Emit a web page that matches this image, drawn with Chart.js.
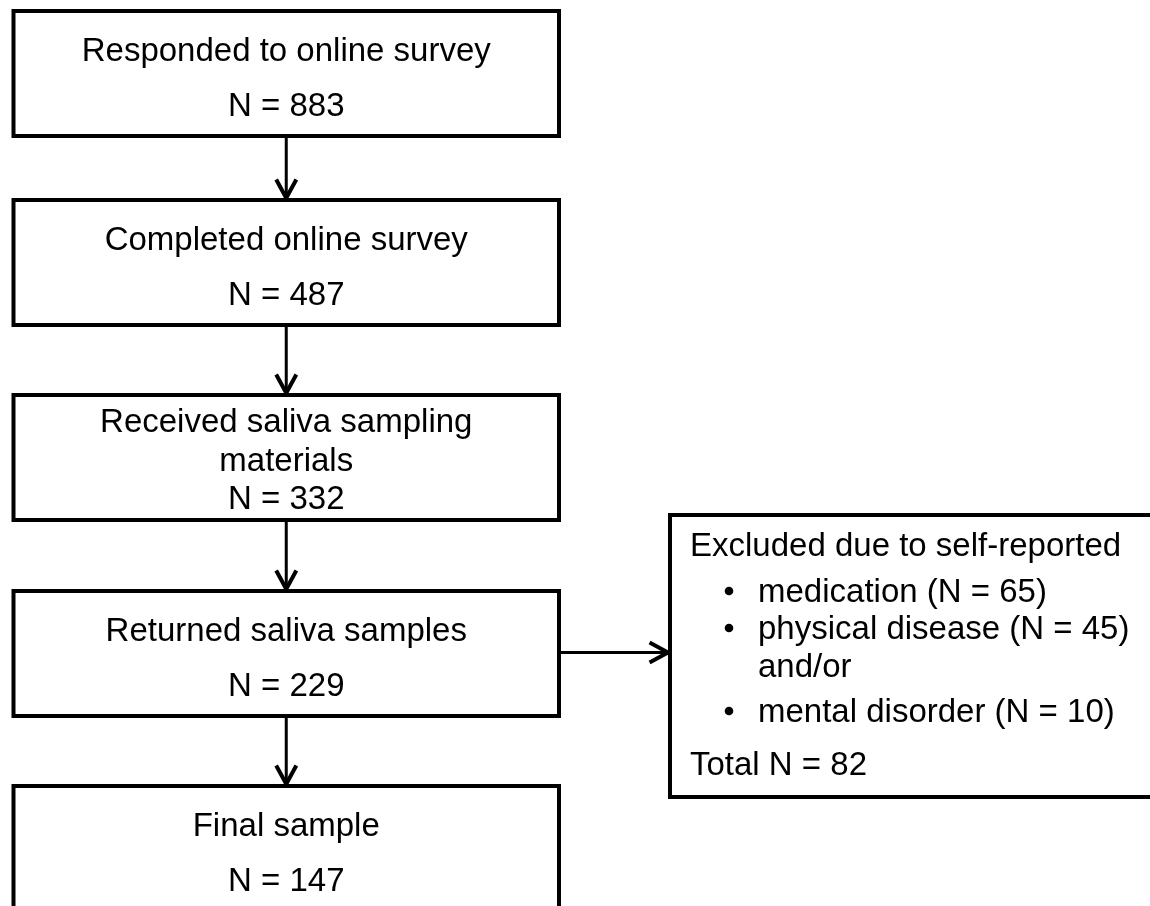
<!DOCTYPE html>
<html>
<head>
<meta charset="utf-8">
<title>Participant flow</title>
<script src="https://cdn.jsdelivr.net/npm/chart.js@4"></script>
<style>
  body { margin: 0; background: #fff; }
  canvas { display: block; }
</style>
</head>
<body>
<canvas id="flow" width="1150" height="906"></canvas>
<script>
// Flow data
const steps = ["Responded to online survey", "Completed online survey", "Received saliva sampling materials", "Returned saliva samples", "Final sample"];
const stepN = [883, 487, 332, 229, 147];
const excludedTitle = "Excluded due to self-reported";
const exclusionReasons = ["medication", "physical disease", "mental disorder"];
const exclusionN = [65, 45, 10];
const excludedTotal = 82;

// Layout (in axis units, 1 unit = 1 px)
const boxLeft = 13.5, boxRight = 559, boxHeight = 125;
const boxTops = [11, 200, 395, 591, 786];
const sideBox = { left: 670, right: 1155, top: 515, bottom: 797 };
const FONT = '33px "Liberation Sans", Arial, sans-serif';

function wrap(ctx, text, maxW) {
    const words = text.split(" ");
    const lines = [];
    let cur = "";
    words.forEach(w => {
        const t = cur ? cur + " " + w : w;
        if (ctx.measureText(t).width > maxW && cur) { lines.push(cur); cur = w; }
        else cur = t;
    });
    lines.push(cur);
    return lines;
}

function arrow(ctx, x1, y1, x2, y2) {
    ctx.lineWidth = 3;
    ctx.beginPath();
    ctx.moveTo(x1, y1);
    ctx.lineTo(x2, y2);
    ctx.stroke();
    const a = Math.atan2(y2 - y1, x2 - x1);
    const len = 21, half = 0.5;
    ctx.lineWidth = 4;
    ctx.beginPath();
    ctx.moveTo(x2 - len * Math.cos(a - half), y2 - len * Math.sin(a - half));
    ctx.lineTo(x2, y2);
    ctx.lineTo(x2 - len * Math.cos(a + half), y2 - len * Math.sin(a + half));
    ctx.stroke();
}

const flowPlugin = {
    id: "flow",
    afterDraw(chart) {
        const ctx = chart.ctx;
        const X = v => chart.scales.x.getPixelForValue(v);
        const Y = v => chart.scales.y.getPixelForValue(v);
        ctx.save();
        ctx.strokeStyle = "#000";
        ctx.fillStyle = "#000";
        ctx.font = FONT;
        ctx.lineJoin = "miter";

        const cx = (boxLeft + boxRight) / 2;
        steps.forEach((label, i) => {
            const top = boxTops[i];
            ctx.lineWidth = 4;
            ctx.strokeRect(X(boxLeft), Y(top), X(boxRight) - X(boxLeft), Y(top + boxHeight) - Y(top));

            const lines = wrap(ctx, label, 480);
            lines.push("N = " + stepN[i]);
            const offs = lines.length === 2 ? [49.5, 104.5] : [37, 75.5, 114];
            ctx.textAlign = "center";
            ctx.textBaseline = "alphabetic";
            lines.forEach((t, j) => ctx.fillText(t, X(cx), Y(top + offs[j])));

            if (i < steps.length - 1) {
                arrow(ctx, X(cx), Y(top + boxHeight + 2), X(cx), Y(boxTops[i + 1] - 2));
            }
        });

        // exclusion box
        ctx.lineWidth = 4;
        ctx.strokeRect(X(sideBox.left), Y(sideBox.top), X(sideBox.right) - X(sideBox.left), Y(sideBox.bottom) - Y(sideBox.top));
        const mid = boxTops[3] + boxHeight / 2 - 1;
        arrow(ctx, X(boxRight + 2), Y(mid), X(sideBox.left - 2), Y(mid));

        ctx.textAlign = "left";
        ctx.fillText(excludedTitle, X(690), Y(556));
        const rows = [
            { bullet: true, text: exclusionReasons[0] + " (N = " + exclusionN[0] + ")", y: 602 },
            { bullet: true, text: exclusionReasons[1] + " (N = " + exclusionN[1] + ")", y: 639 },
            { bullet: false, text: "and/or", y: 677 },
            { bullet: true, text: exclusionReasons[2] + " (N = " + exclusionN[2] + ")", y: 722 }
        ];
        rows.forEach(r => {
            if (r.bullet) {
                ctx.beginPath();
                ctx.arc(X(729), Y(r.y - 11), 4.3, 0, Math.PI * 2);
                ctx.fill();
            }
            ctx.fillText(r.text, X(758), Y(r.y));
        });
        ctx.fillText("Total N = " + excludedTotal, X(690), Y(775));
        ctx.restore();
    }
};

new Chart(document.getElementById("flow"), {
    type: "scatter",
    data: { datasets: [{ data: [], pointRadius: 0 }] },
    options: {
        responsive: false,
        animation: false,
        layout: { padding: 0 },
        scales: {
            x: { type: "linear", min: 0, max: 1150, display: false },
            y: { type: "linear", min: 0, max: 906, reverse: true, display: false }
        },
        plugins: { legend: { display: false }, tooltip: { enabled: false } }
    },
    plugins: [flowPlugin]
});
</script>
</body>
</html>
